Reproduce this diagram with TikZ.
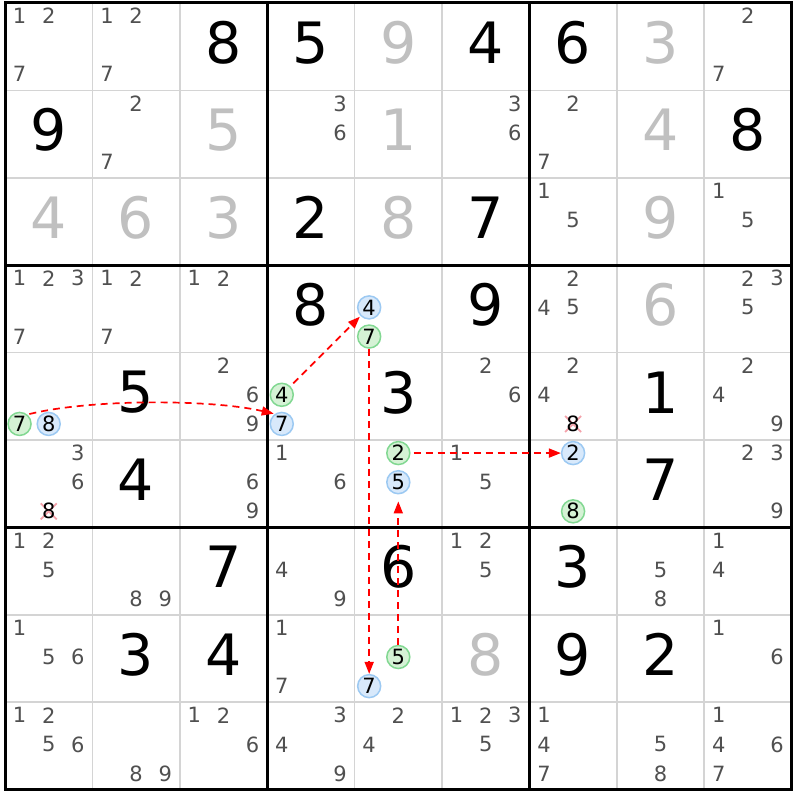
\documentclass[tikz,border=0pt]{standalone}
\usepackage{fontspec}
\setmainfont{DejaVu Sans}
\usetikzlibrary{arrows.meta}
\definecolor{cand}{HTML}{505050}
\definecolor{solved}{HTML}{C0C0C0}
\definecolor{thinline}{HTML}{D4D4D4}
\definecolor{gfill}{HTML}{D5F2D5}
\definecolor{gline}{HTML}{82D892}
\definecolor{bfill}{HTML}{D8E9FB}
\definecolor{bline}{HTML}{9CC9F2}
\definecolor{xred}{HTML}{F4A2AA}
\definecolor{arr}{HTML}{FF0000}
\begin{document}
\begin{tikzpicture}[x=1pt,y=-1pt,
  given/.style={font=\fontsize{57}{57}\selectfont, text=black, inner sep=0pt},
  solvedd/.style={given, text=solved},
  candd/.style={font=\fontsize{21}{21}\selectfont, text=cand, inner sep=0pt},
  gcirc/.style={circle, draw=gline, fill=gfill, line width=1.5pt, minimum size=23pt, inner sep=0pt, font=\fontsize{21}{21}\selectfont, text=black},
  bcirc/.style={gcirc, draw=bline, fill=bfill},
  elim/.style={candd, text=black},
  xmark/.style={draw=xred, line width=1.8pt},
  link/.style={draw=arr, line width=1.7pt, dash pattern=on 7pt off 5pt, -{Triangle[length=12pt,width=9pt]}},
  thingrid/.style={draw=thinline, line width=1.5pt},
  thickgrid/.style={draw=black, line width=3pt, line cap=rect}
]
\fill[white] (0,0) rectangle (800,800);
\useasboundingbox (0,0) rectangle (800,800);
% grid
\foreach \i in {1,2,4,5,7,8}{
  \draw[thingrid] ({5+\i*87.4},3) -- ({5+\i*87.4},789.6);
  \draw[thingrid] (5,{3+\i*87.4}) -- (791.6,{3+\i*87.4});
}
\foreach \i in {0,3,6,9}{
  \draw[thickgrid] ({5+\i*87.4},3) -- ({5+\i*87.4},789.6);
  \draw[thickgrid] (5,{3+\i*87.4}) -- (791.6,{3+\i*87.4});
}
% given digits
\foreach \r/\c/\d in {1/3/8,1/4/5,1/6/4,1/7/6,2/1/9,2/9/8,3/4/2,3/6/7,4/4/8,4/6/9,5/2/5,5/5/3,5/8/1,6/2/4,6/8/7,7/3/7,7/5/6,7/7/3,8/2/3,8/3/4,8/7/9,8/8/2}{
  \pgfmathsetmacro\px{5+(\c-0.5)*87.4}
  \pgfmathsetmacro\py{3+(\r-0.5)*87.4-4}
  \node[given] (v\r\c) at (\px,\py) {\d};
}
% solved digits
\foreach \r/\c/\d in {1/5/9,1/8/3,2/3/5,2/5/1,2/8/4,3/1/4,3/2/6,3/3/3,3/5/8,3/8/9,4/8/6,8/6/8}{
  \pgfmathsetmacro\px{5+(\c-0.5)*87.4}
  \pgfmathsetmacro\py{3+(\r-0.5)*87.4-4}
  \node[solvedd] (v\r\c) at (\px,\py) {\d};
}
% candidates
\foreach \r/\c/\ds in {1/1/{1,2,7},1/2/{1,2,7},1/9/{2,7},
  2/2/{2,7},2/4/{3,6},2/6/{3,6},2/7/{2,7},
  3/7/{1,5},3/9/{1,5},
  4/1/{1,2,3,7},4/2/{1,2,7},4/3/{1,2},4/7/{2,4,5},4/9/{2,3,5},
  5/3/{2,6,9},5/6/{2,6},5/7/{2,4},5/9/{2,4,9},
  6/1/{3,6},6/3/{6,9},6/4/{1,6},6/6/{1,5},6/9/{2,3,9},
  7/1/{1,2,5},7/2/{8,9},7/4/{4,9},7/6/{1,2,5},7/8/{5,8},7/9/{1,4},
  8/1/{1,5,6},8/4/{1,7},8/9/{1,6},
  9/1/{1,2,5,6},9/2/{8,9},9/3/{1,2,6},9/4/{3,4,9},9/5/{2,4},9/6/{1,2,3,5},9/7/{1,4,7},9/8/{5,8},9/9/{1,4,6,7}}{
  \foreach \n in \ds {
    \pgfmathsetmacro\px{5+(\c-1)*87.4+(mod(\n-1,3)+0.5)*29.133}
    \pgfmathsetmacro\py{3+(\r-1)*87.4+(floor((\n-1)/3)+0.5)*29.133-1.5}
    \node[candd] (k\r\c\n) at (\px,\py) {\n};
  }
}
% eliminated candidates
\foreach \r/\c/\n in {5/7/8,6/1/8}{
  \pgfmathsetmacro\px{5+(\c-1)*87.4+(mod(\n-1,3)+0.5)*29.133}
  \pgfmathsetmacro\py{3+(\r-1)*87.4+(floor((\n-1)/3)+0.5)*29.133-1.5}
  \draw[xmark] (\px-8,\py-8) -- (\px+8,\py+8);
  \draw[xmark] (\px-8,\py+8) -- (\px+8,\py-8);
  \node[elim] (k\r\c\n) at (\px,\py) {\n};
}
% highlighted candidates
\foreach \r/\c/\n/\st in {5/1/7/gcirc,5/4/4/gcirc,4/5/7/gcirc,6/5/2/gcirc,8/5/5/gcirc,6/7/8/gcirc,
  5/1/8/bcirc,5/4/7/bcirc,4/5/4/bcirc,6/5/5/bcirc,8/5/7/bcirc,6/7/2/bcirc}{
  \pgfmathsetmacro\px{5+(\c-1)*87.4+(mod(\n-1,3)+0.5)*29.133}
  \pgfmathsetmacro\py{3+(\r-1)*87.4+(floor((\n-1)/3)+0.5)*29.133-1.5}
  \node[\st] (k\r\c\n) at (\px,\py) {\n};
}
% links
\draw[link, shorten <=2pt, shorten >=1pt] (k517.50) .. controls (90,399) and (210,399) .. (k547.125);
\draw[link, shorten <=4pt, shorten >=1pt] (k544) -- (k454);
\draw[link] (k457) -- (k857);
\draw[link, shorten >=7pt] (k855) -- (k655);
\draw[link, shorten <=3pt] (k652) -- (k672);
\end{tikzpicture}
\end{document}
